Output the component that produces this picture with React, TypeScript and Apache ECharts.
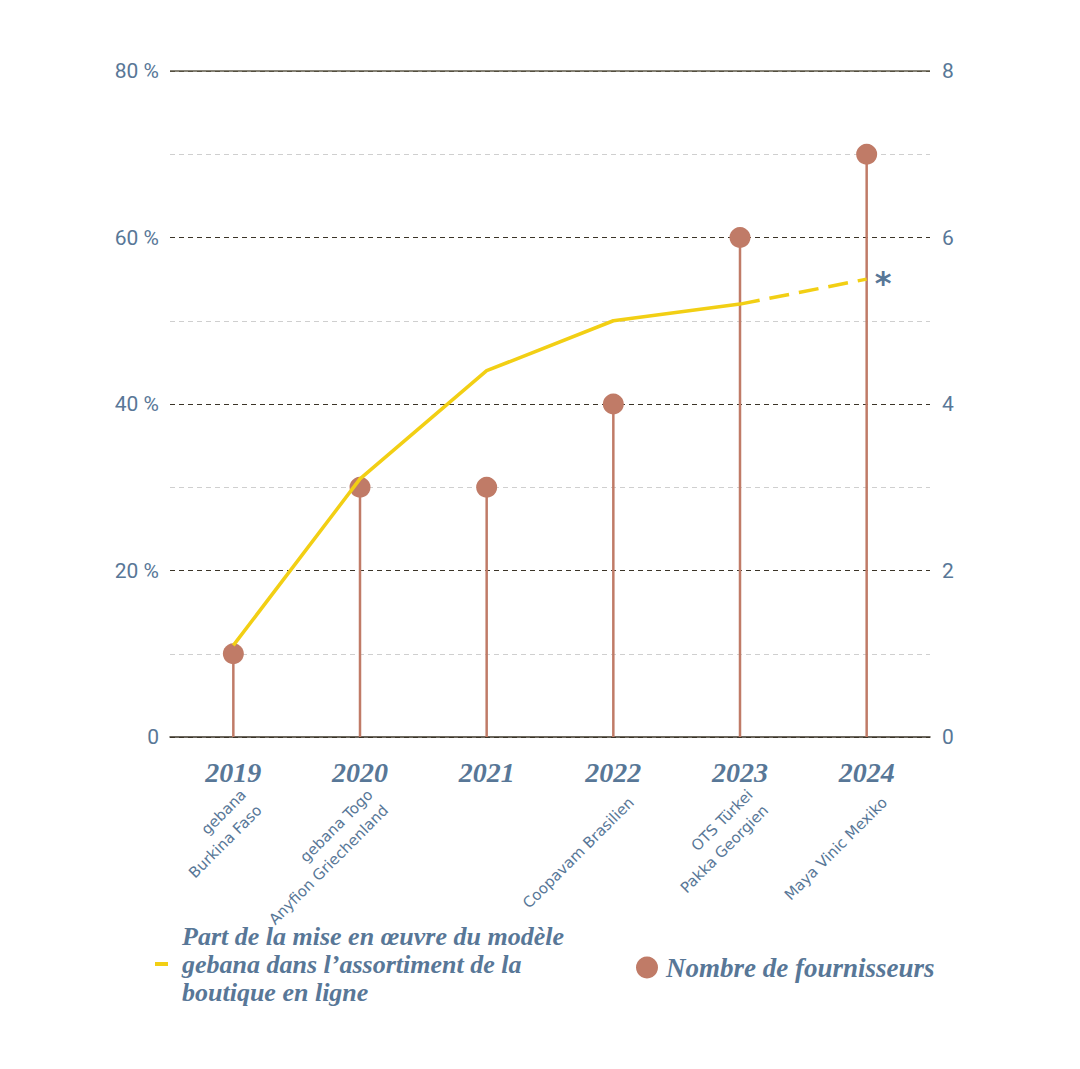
import React, { useEffect, useRef } from "react";
import * as echarts from "echarts";

const years = ["2019", "2020", "2021", "2022", "2023", "2024"];
const suppliers = [
  "gebana\nBurkina Faso",
  "gebana Togo\nAnyfion Griechenland",
  "",
  "Coopavam Brasilien",
  "OTS Türkei\nPakka Georgien",
  "Maya Vinic Mexiko",
];
const shareActual = [11, 31, 44, 50, 52, null];
const shareForecast = [null, null, null, null, 52, 55];
const supplierCount = [1, 3, 3, 4, 6, 7];

const lineName = "Part de la mise en œuvre du modèle\ngebana dans l’assortiment de la\nboutique en ligne";
const dotName = "Nombre de fournisseurs";

const BLUE = "#587797";
const BROWN = "#c07b67";
const YELLOW = "#f2cf14";
const SERIF = "'Liberation Serif', serif";
const SANS = "Roboto, 'DejaVu Sans', sans-serif";

export default function App() {
  const ref = useRef<HTMLDivElement>(null);
  useEffect(() => {
    document.body.style.margin = "0";
    const chart = echarts.init(ref.current!, null, { renderer: "svg" });
    const forecastData = shareForecast.map((v, i) =>
      i === shareForecast.length - 1
        ? {
            value: v,
            label: {
              show: true,
              formatter: "*",
              position: "right",
              distance: 8,
              color: BLUE,
              fontSize: 32,
              fontWeight: "bold",
              fontFamily: "'DejaVu Sans', sans-serif",
              offset: [0, 4],
            },
          }
        : v
    );
    chart.setOption({
      animation: false,
      backgroundColor: "#ffffff",
      grid: [
        { left: 170, right: 150, top: 71, bottom: 332 },
        { left: 188, right: 132, top: 71, bottom: 332 },
      ],
      legend: [
        {
          data: [{ name: lineName, icon: "rect" }],
          left: 155,
          top: 922,
          padding: 0,
          itemWidth: 13,
          itemHeight: 4,
          textStyle: {
            color: BLUE,
            fontFamily: SERIF,
            fontStyle: "italic",
            fontWeight: "bold",
            fontSize: 26,
            lineHeight: 28,
            padding: [0, 0, 0, 9],
          },
        },
        {
          data: [{ name: dotName, icon: "circle" }],
          left: 636,
          top: 954,
          padding: 0,
          itemWidth: 22,
          itemHeight: 22,
          textStyle: {
            color: BLUE,
            fontFamily: SERIF,
            fontStyle: "italic",
            fontWeight: "bold",
            fontSize: 27,
            padding: [0, 0, 0, 3],
          },
        },
      ],
      xAxis: [
        {
          type: "category",
          gridIndex: 0,
          data: years,
          position: "bottom",
          axisLine: { lineStyle: { color: "#3b3428", width: 1.5 } },
          axisTick: { show: false },
          axisLabel: {
            margin: 21,
            color: BLUE,
            fontFamily: SERIF,
            fontStyle: "italic",
            fontWeight: "bold",
            fontSize: 28,
          },
        },
        {
          type: "category",
          gridIndex: 1,
          data: suppliers,
          position: "bottom",
          axisLine: { show: false },
          axisTick: { show: false },
          splitLine: { show: false },
          axisLabel: {
            rotate: 45,
            margin: 63,
            interval: 0,
            color: BLUE,
            fontFamily: "'DejaVu Sans', sans-serif",
            fontSize: 15,
            lineHeight: 22,
          },
        },
      ],
      yAxis: [
        {
          type: "value",
          gridIndex: 0,
          min: 0,
          max: 80,
          interval: 10,
          axisLine: { show: false },
          axisTick: { show: false },
          axisLabel: {
            margin: 11,
            color: BLUE,
            fontFamily: SANS,
            fontSize: 21,
            formatter: (v: number) => (v % 20 !== 0 ? "" : v === 0 ? "0" : v + " %"),
          },
          splitLine: {
            show: true,
            lineStyle: {
              color: ["#3b3428", "#cfcfcf"],
              type: [5, 4],
              width: 1,
            },
          },
        },
        {
          type: "value",
          gridIndex: 0,
          min: 0,
          max: 8,
          interval: 1,
          position: "right",
          axisLine: { show: false },
          axisTick: { show: false },
          splitLine: { show: false },
          axisLabel: {
            margin: 12,
            color: BLUE,
            fontFamily: SANS,
            fontSize: 21,
            formatter: (v: number) => (v % 2 !== 0 ? "" : String(v)),
          },
        },
        {
          type: "value",
          gridIndex: 1,
          show: false,
          min: 0,
          max: 8,
        },
      ],
      series: [
        {
          name: "stems",
          type: "bar",
          xAxisIndex: 0,
          yAxisIndex: 1,
          data: supplierCount,
          barWidth: 2.5,
          itemStyle: { color: BROWN },
          silent: true,
          z: 2,
          markLine: {
            silent: true,
            symbol: "none",
            label: { show: false },
            lineStyle: { color: "#5e5849", type: "solid", width: 1.5 },
            data: [{ yAxis: 8 }],
          },
        },
        {
          name: dotName,
          type: "scatter",
          xAxisIndex: 0,
          yAxisIndex: 1,
          data: supplierCount,
          symbol: "circle",
          symbolSize: 21,
          itemStyle: { color: BROWN, opacity: 1 },
          z: 3,
        },
        {
          name: lineName,
          type: "line",
          xAxisIndex: 0,
          yAxisIndex: 0,
          data: shareActual,
          showSymbol: false,
          symbol: "none",
          lineStyle: { color: YELLOW, width: 3.5 },
          itemStyle: { color: YELLOW },
          z: 4,
        },
        {
          name: "forecast",
          type: "line",
          xAxisIndex: 0,
          yAxisIndex: 0,
          data: forecastData,
          showSymbol: true,
          symbol: "circle",
          symbolSize: 0,
          lineStyle: { color: YELLOW, width: 3.5, type: [20, 10] },
          itemStyle: { color: YELLOW },
          z: 4,
        },
      ],
    });
    return () => chart.dispose();
  }, []);
  return <div ref={ref} style={{ width: 1080, height: 1069 }} />;
}
